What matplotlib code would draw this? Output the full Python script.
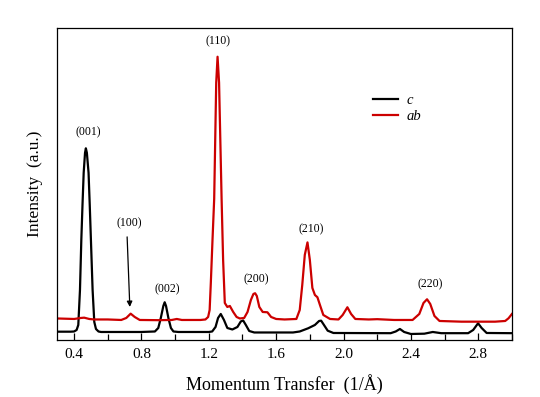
#!/usr/bin/env python3
"""Momentum transfer scan along c and ab directions (recreated chart)."""

import matplotlib
matplotlib.use('Agg')
import matplotlib.pyplot as plt
from matplotlib.ticker import MultipleLocator

# ---- data (intensity in arbitrary units) ----
q_c = [0.30, 0.38, 0.40, 0.415, 0.425, 0.435, 0.443, 0.45, 0.457, 0.465,
       0.470, 0.476, 0.486, 0.493, 0.50, 0.51, 0.52, 0.53, 0.545, 0.56,
       0.80, 0.88, 0.90, 0.915, 0.93, 0.938, 0.946, 0.96, 0.975, 0.99,
       1.02, 1.20, 1.22, 1.24, 1.255, 1.271, 1.29, 1.31, 1.34, 1.37,
       1.39, 1.404, 1.42, 1.44, 1.47, 1.70, 1.74, 1.79, 1.83, 1.855,
       1.867, 1.88, 1.906, 1.94, 2.28, 2.31, 2.335, 2.36, 2.40, 2.48,
       2.53, 2.58, 2.74, 2.77, 2.799, 2.82, 2.85, 3.00]
i_c = [8.3, 8.3, 8.5, 10, 15, 50, 100, 135, 167, 187,
       191.5, 187, 167, 135, 100, 50, 18, 11, 8.5, 8,
       8, 8.5, 12, 22, 34, 37.7, 34, 22, 12, 8.5,
       8, 8, 8.5, 13, 22, 26, 20, 12, 10.5, 13,
       18.5, 19.5, 15, 9, 7.5, 7.5, 8.5, 11.7, 15, 19,
       19.3, 16, 9.3, 7, 6.8, 8.5, 11, 8, 6, 6.3,
       8, 6.8, 6.8, 10, 16.7, 12, 7, 6.8]

q_ab = [0.30, 0.40, 0.44, 0.46, 0.49, 0.52, 0.60, 0.68, 0.71, 0.736,
        0.76, 0.79, 0.90, 0.98, 1.01, 1.04, 1.15, 1.18, 1.196, 1.205,
        1.212, 1.222, 1.232, 1.244, 1.252, 1.261, 1.276, 1.285, 1.295, 1.31,
        1.325, 1.345, 1.365, 1.384, 1.41, 1.43, 1.45, 1.465, 1.475, 1.485,
        1.50, 1.52, 1.548, 1.57, 1.60, 1.65, 1.72, 1.74, 1.755, 1.77,
        1.786, 1.80, 1.815, 1.83, 1.845, 1.86, 1.88, 1.92, 1.97, 1.995,
        2.023, 2.045, 2.07, 2.15, 2.20, 2.30, 2.41, 2.45, 2.475, 2.496,
        2.515, 2.54, 2.57, 2.70, 2.90, 2.96, 2.98, 3.00]
i_ab = [21.5, 21, 22, 22.3, 21, 20.5, 20.5, 20, 22, 26.3,
        23, 20, 19.8, 20, 21, 20, 20, 20.5, 23, 30,
        57, 100, 141, 257, 283, 257, 141, 80, 37, 33,
        34, 28, 23, 21.5, 22, 28, 40, 46, 46.7, 44,
        33, 28, 27.7, 23, 21, 20.5, 21, 30, 55, 85,
        97.5, 80, 52, 45, 42.7, 35, 25, 21, 20.5, 25,
        32.7, 26, 21, 20.5, 20.8, 20, 20, 26, 37, 40.7,
        36, 24, 19, 18.3, 18.3, 19, 21.7, 26]

peak_labels = ['(001)', '(100)', '(002)', '(110)', '(200)', '(210)', '(220)']
label_q = [0.482, 0.725, 0.956, 1.257, 1.480, 1.808, 2.512]
label_i = [208, 117, 51, 298, 61, 111, 56]

series_names = ['c', 'ab']


def main():
    plt.rcParams['font.family'] = ['Liberation Serif', 'DejaVu Serif']

    fig = plt.figure(figsize=(5.4, 3.97), dpi=100)
    ax = fig.add_axes([0.106, 0.1436, 0.842, 0.7866])

    ax.plot(q_c, i_c, color='black', linewidth=1.6, label=series_names[0])
    ax.plot(q_ab, i_ab, color='#cc0000', linewidth=1.6, label=series_names[1])

    for lab, xq, yi in zip(peak_labels, label_q, label_i):
        ax.text(xq, yi, lab, ha='center', va='center', fontsize=8.5)

    # arrow pointing at the weak (100) reflection
    ax.annotate('', xy=(0.731, 33), xytext=(0.715, 103),
                arrowprops=dict(arrowstyle='-|>', color='black', lw=0.9,
                                mutation_scale=8, shrinkA=0, shrinkB=0))

    ax.set_xlim(0.3, 3.0)
    ax.set_ylim(0, 312)
    ax.xaxis.set_major_locator(MultipleLocator(0.4))
    ax.xaxis.set_minor_locator(MultipleLocator(0.2))
    ax.tick_params(axis='x', which='both', direction='in', top=False,
                   labelsize=11, pad=6)
    ax.tick_params(axis='x', which='major', length=5, width=0.9)
    ax.tick_params(axis='x', which='minor', length=4, width=0.9)
    ax.set_yticks([])
    ax.xaxis.set_major_formatter(plt.FuncFormatter(lambda v, p: f'{v:.1f}'))

    ax.set_xlabel('Momentum Transfer  (1/\u00c5)', fontsize=13, labelpad=9)
    ax.set_ylabel('Intensity  (a.u.)', fontsize=12.5, labelpad=10)

    leg = ax.legend(loc='upper left', bbox_to_anchor=(0.665, 0.83), frameon=False,
                    fontsize=10.5, handlelength=1.7, handletextpad=0.6,
                    labelspacing=0.2)
    for t in leg.get_texts():
        t.set_fontstyle('italic')

    for s in ax.spines.values():
        s.set_linewidth(0.9)

    fig.savefig('out.png', dpi=100, facecolor='white')
    plt.close(fig)


if __name__ == '__main__':
    main()
